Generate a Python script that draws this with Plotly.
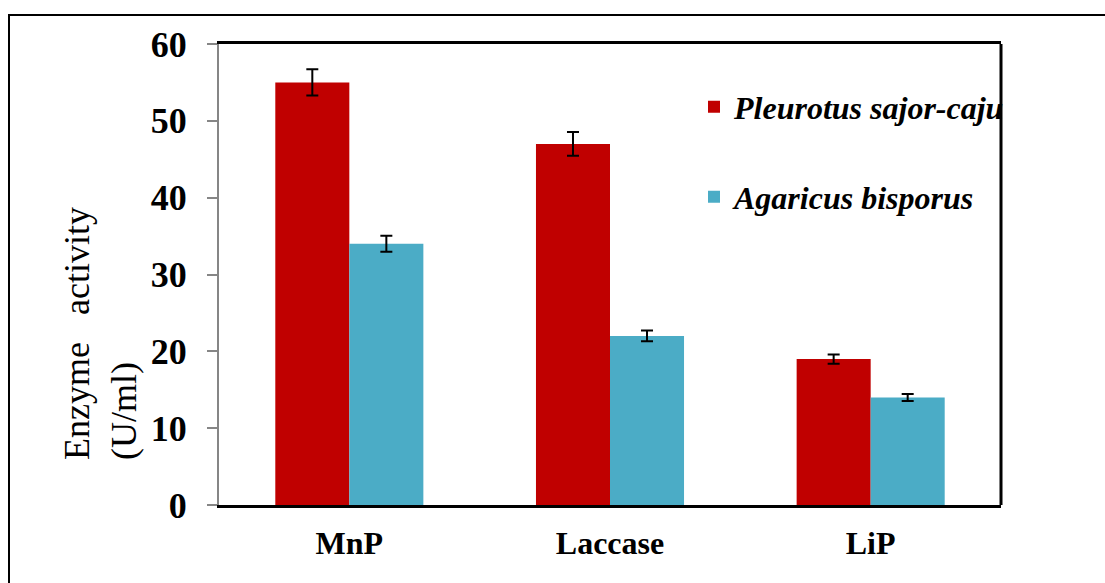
import plotly.graph_objects as go

categories = ["MnP", "Laccase", "LiP"]
pleurotus = [55, 47, 19]
pleurotus_err = [1.7, 1.55, 0.6]
agaricus = [34, 22, 14]
agaricus_err = [1.05, 0.7, 0.45]
series_names = ["Pleurotus sajor-caju", "Agaricus bisporus"]
y_ticks = [0, 10, 20, 30, 40, 50, 60]

RED = "#C00000"
BLUE = "#4BACC6"
FONT = "Liberation Serif"

fig = go.Figure()
fig.add_trace(go.Bar(
    x=categories, y=pleurotus, name=series_names[0],
    marker=dict(color=RED, line=dict(width=0)),
    error_y=dict(type="data", array=pleurotus_err, color="black", thickness=2, width=6),
    legend="legend",
))
fig.add_trace(go.Bar(
    x=categories, y=agaricus, name=series_names[1],
    marker=dict(color=BLUE, line=dict(width=0)),
    error_y=dict(type="data", array=agaricus_err, color="black", thickness=2, width=6),
    legend="legend2",
))

W, H = 1105, 583
L, R, T, B = 219, 104, 44, 78
pw, ph = W - L - R, H - T - B

def px_x(x):
    return (x - L) / pw

def px_y(y):
    return (H - B - y) / ph

legend_font = dict(family=FONT, size=32, color="black", style="italic", weight="bold")

fig.update_layout(
    width=W, height=H,
    margin=dict(l=L, r=R, t=T, b=B, pad=0),
    paper_bgcolor="white", plot_bgcolor="white",
    barmode="group", bargap=0.432, bargroupgap=0,
    font=dict(family=FONT, color="black"),
    legend=dict(x=px_x(694), y=px_y(107), xanchor="left", yanchor="middle",
                font=legend_font, bgcolor="rgba(0,0,0,0)", borderwidth=0,
                itemsizing="constant"),
    legend2=dict(x=px_x(694), y=px_y(197), xanchor="left", yanchor="middle",
                 font=legend_font, bgcolor="rgba(0,0,0,0)", borderwidth=0,
                 itemsizing="constant"),
    xaxis=dict(
        showline=True, linecolor="black", linewidth=3, mirror=True,
        ticks="", showgrid=False,
        tickfont=dict(family=FONT, size=32, weight="bold", color="black"),
        ticklabelstandoff=8,
    ),
    yaxis=dict(
        range=[0, 60], tickvals=y_ticks,
        showline=True, linecolor="#868686", linewidth=2,
        ticks="outside", ticklen=10, tickwidth=2, tickcolor="#868686",
        showgrid=False, zeroline=False,
        tickfont=dict(family=FONT, size=36, weight="bold", color="black"),
        ticklabelstandoff=13,
    ),
    showlegend=True,
)

# right border of plot area (black)
fig.add_shape(type="line", xref="paper", yref="paper", x0=1, x1=1, y0=0, y1=1,
              line=dict(color="black", width=3))
# outer frame
fig.add_shape(type="rect", xref="paper", yref="paper",
              x0=px_x(9), x1=px_x(1160), y0=px_y(600), y1=px_y(15),
              line=dict(color="black", width=2), fillcolor="rgba(0,0,0,0)", layer="below")

fig.add_annotation(
    xref="paper", yref="paper", x=px_x(100), y=px_y(333),
    text="Enzyme&nbsp;&nbsp;&nbsp;activity<br>(U/ml)", textangle=-90,
    showarrow=False, align="left", xanchor="center", yanchor="middle",
    font=dict(family=FONT, size=36, color="black"),
)

fig.write_html("out.html")
